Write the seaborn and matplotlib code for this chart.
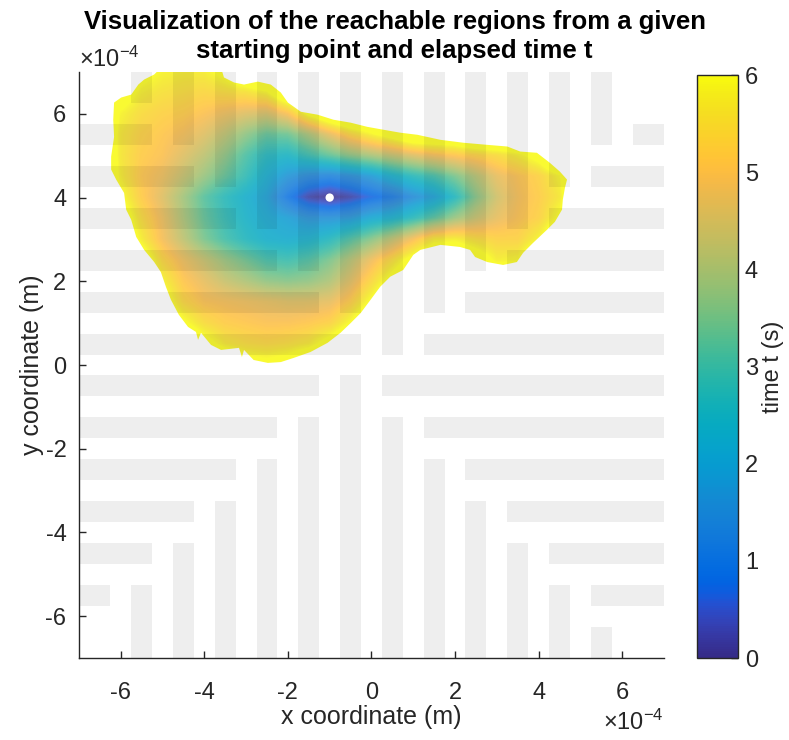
import matplotlib
matplotlib.use("Agg")
import matplotlib.pyplot as plt
import numpy as np
import seaborn as sns
from matplotlib.colors import LinearSegmentedColormap, Normalize
from matplotlib.cm import ScalarMappable
from matplotlib.patches import Polygon

UNIT = 1e-4  # coordinates below are given in units of 1e-4 m

# ---------------------------------------------------------------- data
# sample grid of the arrival-time field (s)
grid_x = [-6.5, -6.0, -5.5, -5.0, -4.5, -4.0, -3.5, -3.0, -2.5, -2.0, -1.5, -1.0,
          -0.5, 0.0, 0.5, 1.0, 1.5, 2.0, 2.5, 3.0, 3.5, 4.0, 4.5, 5.0]
grid_y = [0.0, 0.5, 1.0, 1.5, 2.0, 2.5, 3.0, 3.5, 4.0, 4.5, 5.0, 5.5, 6.0, 6.5, 7.0]

# rows follow grid_y (bottom to top), columns follow grid_x
arrival_time = [
    [7.5, 7.5, 7.5, 7.5, 7.5, 7.5, 7.0, 6.3, 6.2, 6.4, 7.0, 7.5, 7.5, 7.5, 7.5, 7.5, 7.5, 7.5, 7.5, 7.5, 7.5, 7.5, 7.5, 7.5],
    [7.5, 7.5, 7.5, 7.5, 7.0, 6.3, 5.7, 5.5, 5.4, 5.5, 5.7, 6.3, 7.0, 7.5, 7.5, 7.5, 7.5, 7.5, 7.5, 7.5, 7.5, 7.5, 7.5, 7.5],
    [7.5, 7.5, 7.5, 7.0, 6.1, 5.5, 5.2, 5.1, 5.0, 5.0, 5.1, 5.3, 6.0, 7.0, 7.5, 7.5, 7.5, 7.5, 7.5, 7.5, 7.5, 7.5, 7.5, 7.5],
    [7.5, 7.5, 7.5, 6.4, 5.4, 5.0, 4.9, 4.8, 4.7, 4.6, 4.6, 4.7, 5.2, 6.1, 7.0, 7.5, 7.5, 7.5, 7.5, 7.5, 7.5, 7.5, 7.5, 7.5],
    [7.5, 7.5, 7.0, 5.9, 5.1, 4.7, 4.3, 4.0, 3.7, 3.6, 3.7, 4.0, 4.6, 5.4, 6.3, 7.0, 7.5, 7.5, 7.5, 7.0, 7.0, 7.5, 7.5, 7.5],
    [7.5, 7.5, 6.6, 5.4, 4.8, 4.3, 3.8, 3.4, 3.0, 2.9, 3.1, 3.5, 4.1, 4.8, 5.5, 6.3, 7.0, 7.0, 6.5, 5.8, 5.9, 7.0, 7.5, 7.5],
    [7.5, 7.0, 5.8, 4.9, 4.2, 3.5, 3.0, 2.6, 2.3, 2.2, 2.3, 2.6, 3.1, 3.6, 4.2, 4.9, 5.7, 5.8, 5.5, 5.3, 5.3, 5.9, 7.0, 7.5],
    [7.5, 6.6, 5.5, 4.8, 4.0, 3.3, 2.8, 2.4, 2.1, 1.9, 1.6, 1.6, 1.7, 2.1, 2.3, 2.7, 3.2, 3.8, 4.3, 4.7, 5.0, 5.3, 6.1, 7.5],
    [7.5, 6.1, 5.2, 4.6, 3.9, 3.2, 2.7, 2.3, 1.9, 1.0, 0.3, 0.0, 0.3, 0.7, 1.0, 1.5, 1.9, 2.6, 3.6, 4.4, 4.9, 5.2, 5.7, 7.5],
    [7.5, 5.8, 5.1, 4.8, 4.3, 3.8, 3.3, 2.8, 2.2, 1.7, 1.4, 1.3, 1.5, 1.8, 2.3, 2.7, 3.0, 3.5, 4.1, 4.7, 5.0, 5.3, 5.9, 7.5],
    [7.5, 5.7, 5.2, 5.0, 4.6, 4.2, 3.7, 3.1, 2.6, 2.5, 2.9, 3.3, 3.7, 4.0, 4.3, 4.6, 4.9, 5.1, 5.3, 5.5, 5.8, 6.3, 7.5, 7.5],
    [7.5, 5.7, 5.3, 5.1, 4.9, 4.6, 4.2, 3.7, 3.3, 3.4, 4.0, 4.7, 5.4, 5.9, 6.4, 7.0, 7.0, 7.0, 7.5, 7.5, 7.5, 7.5, 7.5, 7.5],
    [7.5, 5.9, 5.5, 5.3, 5.2, 5.0, 4.8, 4.6, 4.5, 5.0, 6.2, 7.0, 7.5, 7.5, 7.5, 7.5, 7.5, 7.5, 7.5, 7.5, 7.5, 7.5, 7.5, 7.5],
    [7.5, 6.5, 5.8, 5.6, 5.5, 5.4, 5.5, 5.6, 5.9, 7.0, 7.5, 7.5, 7.5, 7.5, 7.5, 7.5, 7.5, 7.5, 7.5, 7.5, 7.5, 7.5, 7.5, 7.5],
    [7.5, 7.0, 6.3, 5.9, 5.8, 5.8, 6.2, 7.0, 7.5, 7.5, 7.5, 7.5, 7.5, 7.5, 7.5, 7.5, 7.5, 7.5, 7.5, 7.5, 7.5, 7.5, 7.5, 7.5],
]

# outline of the reachable region (t <= 6 s), clockwise from the upper left
region_x = [-6.16, -5.99, -5.75, -5.58, -5.44, -5.20, -5.04, -3.60, -3.53, -3.29,
            -3.05, -2.72, -2.41, -2.17, -2.00, -1.69, -1.29, -0.91, -0.50, -0.10,
            0.29, 0.69, 1.10, 1.65, 2.20, 2.77, 3.25, 3.56, 3.96, 4.27,
            4.51, 4.68, 4.63, 4.58, 4.56, 4.39, 4.20, 3.87, 3.63, 3.48,
            3.15, 2.77, 2.48, 2.36, 2.12, 1.65, 1.17, 1.00, 0.76, 0.45,
            0.21, -0.02, -0.26, -0.50, -0.74, -1.05, -1.46, -1.86, -2.17, -2.48,
            -2.82, -3.05, -3.10, -3.17, -3.60, -3.84, -4.08, -4.15, -4.20, -4.39,
            -4.61, -4.80, -4.92, -5.04, -5.20, -5.44, -5.63, -5.75, -5.87, -5.92,
            -6.11, -6.23, -6.23, -6.16, -6.18]
region_y = [6.27, 6.39, 6.46, 6.70, 6.82, 6.94, 7.10, 7.10, 6.87, 6.75,
            6.70, 6.77, 6.70, 6.51, 6.27, 6.05, 5.98, 5.86, 5.79, 5.69,
            5.62, 5.55, 5.50, 5.38, 5.31, 5.26, 5.22, 5.10, 5.07, 4.83,
            4.62, 4.43, 4.23, 3.95, 3.71, 3.42, 3.23, 2.92, 2.68, 2.46,
            2.39, 2.46, 2.58, 2.75, 2.82, 2.87, 2.75, 2.63, 2.27, 2.11,
            1.87, 1.56, 1.24, 1.00, 0.77, 0.53, 0.31, 0.17, 0.07, 0.05,
            0.12, 0.36, 0.19, 0.41, 0.36, 0.48, 0.77, 0.60, 0.79, 0.91,
            1.20, 1.56, 1.87, 2.22, 2.46, 2.75, 3.06, 3.47, 3.71, 4.11,
            4.43, 4.67, 4.98, 5.45, 5.86]

# starting point
start_x = [-1.0]
start_y = [4.0]

# obstacle strips: horizontal (centre y, from x, to x)
hbar_y = [0.5, 1.5, 2.5, 3.5, 4.5, 5.5,
          0.5, 1.5, 2.5, 3.5, 4.5, 5.5,
          -0.5, -1.5, -2.5, -3.5, -4.5, -5.5,
          -0.5, -1.5, -2.5, -3.5, -4.5, -5.5]
hbar_x0 = [-7, -7, -7, -7, -7, -7,
           1.25, 2.25, 3.25, 4.25, 5.25, 6.25,
           -7, -7, -7, -7, -7, -7,
           0.25, 1.25, 2.25, 3.25, 4.25, 5.25]
hbar_x1 = [-0.25, -1.25, -2.25, -3.25, -4.25, -5.25,
           7, 7, 7, 7, 7, 7,
           -1.25, -2.25, -3.25, -4.25, -5.25, -6.25,
           7, 7, 7, 7, 7, 7]
# vertical (centre x, from y, to y)
vbar_x = [-0.5, -1.5, -2.5, -3.5, -4.5, -5.5,
          0.5, 1.5, 2.5, 3.5, 4.5, 5.5,
          -0.5, -1.5, -2.5, -3.5, -4.5, -5.5,
          0.5, 1.5, 2.5, 3.5, 4.5, 5.5]
vbar_y0 = [1.25, 2.25, 3.25, 4.25, 5.25, 6.25,
           0.25, 1.25, 2.25, 3.25, 4.25, 5.25,
           -7, -7, -7, -7, -7, -7,
           -7, -7, -7, -7, -7, -7]
vbar_y1 = [7, 7, 7, 7, 7, 7,
           7, 7, 7, 7, 7, 7,
           -0.25, -1.25, -2.25, -3.25, -4.25, -5.25,
           -1.25, -2.25, -3.25, -4.25, -5.25, -6.25]
strip_width = 0.5

axis_ticks = [-6, -4, -2, 0, 2, 4, 6]
time_ticks = [0, 1, 2, 3, 4, 5, 6]

title_lines = ["Visualization of the reachable regions from a given",
               "starting point and elapsed time t"]

# ---------------------------------------------------------------- colormap
PARULA = [
    (0.2081, 0.1663, 0.5292), (0.2116, 0.1898, 0.5777), (0.2123, 0.2138, 0.6270),
    (0.2081, 0.2386, 0.6771), (0.1959, 0.2645, 0.7279), (0.1707, 0.2919, 0.7792),
    (0.1253, 0.3242, 0.8303), (0.0591, 0.3598, 0.8683), (0.0117, 0.3875, 0.8820),
    (0.0060, 0.4086, 0.8828), (0.0165, 0.4266, 0.8786), (0.0329, 0.4430, 0.8720),
    (0.0498, 0.4586, 0.8641), (0.0629, 0.4737, 0.8554), (0.0723, 0.4887, 0.8467),
    (0.0779, 0.5040, 0.8384), (0.0793, 0.5200, 0.8312), (0.0749, 0.5375, 0.8263),
    (0.0641, 0.5570, 0.8240), (0.0488, 0.5772, 0.8228), (0.0343, 0.5966, 0.8199),
    (0.0265, 0.6137, 0.8135), (0.0239, 0.6287, 0.8038), (0.0231, 0.6418, 0.7913),
    (0.0228, 0.6535, 0.7768), (0.0267, 0.6642, 0.7607), (0.0384, 0.6743, 0.7436),
    (0.0590, 0.6838, 0.7254), (0.0843, 0.6928, 0.7062), (0.1133, 0.7015, 0.6859),
    (0.1453, 0.7098, 0.6646), (0.1801, 0.7177, 0.6424), (0.2178, 0.7250, 0.6193),
    (0.2586, 0.7317, 0.5954), (0.3022, 0.7376, 0.5712), (0.3482, 0.7424, 0.5473),
    (0.3953, 0.7459, 0.5244), (0.4420, 0.7481, 0.5033), (0.4871, 0.7491, 0.4840),
    (0.5300, 0.7491, 0.4661), (0.5709, 0.7485, 0.4494), (0.6099, 0.7473, 0.4337),
    (0.6473, 0.7456, 0.4188), (0.6834, 0.7435, 0.4044), (0.7184, 0.7411, 0.3905),
    (0.7525, 0.7384, 0.3768), (0.7858, 0.7356, 0.3633), (0.8185, 0.7327, 0.3498),
    (0.8507, 0.7299, 0.3360), (0.8824, 0.7274, 0.3217), (0.9139, 0.7258, 0.3063),
    (0.9450, 0.7261, 0.2886), (0.9739, 0.7314, 0.2666), (0.9938, 0.7455, 0.2403),
    (0.9990, 0.7653, 0.2164), (0.9955, 0.7861, 0.1967), (0.9880, 0.8066, 0.1794),
    (0.9789, 0.8271, 0.1633), (0.9697, 0.8481, 0.1475), (0.9626, 0.8705, 0.1309),
    (0.9589, 0.8949, 0.1132), (0.9598, 0.9218, 0.0948), (0.9661, 0.9514, 0.0755),
    (0.9763, 0.9831, 0.0538),
]
parula = LinearSegmentedColormap.from_list("parula", PARULA, N=256)

# ---------------------------------------------------------------- style
sns.set_theme(style="ticks")
plt.rcParams["font.family"] = ["Liberation Sans", "DejaVu Sans"]
plt.rcParams["axes.unicode_minus"] = False
plt.rcParams["mathtext.fontset"] = "custom"
plt.rcParams["mathtext.rm"] = "Liberation Sans"
plt.rcParams["mathtext.it"] = "Liberation Sans:italic"
INK = (0.15, 0.15, 0.15)
TICK_FS = 17
LABEL_FS = 18

fig = plt.figure(figsize=(7.89, 7.40), dpi=100)
ax = fig.add_axes([0.1001, 0.1108, 0.7414, 0.7919])

# arrival-time field, clipped to the reachable region
gx = np.array(grid_x) * UNIT
gy = np.array(grid_y) * UNIT
half = 0.25 * UNIT
im = ax.imshow(np.array(arrival_time), origin="lower",
               extent=[gx[0] - half, gx[-1] + half, gy[0] - half, gy[-1] + half],
               cmap=parula, vmin=0, vmax=6, interpolation="bilinear",
               interpolation_stage="data", alpha=0.85, aspect="auto", zorder=1)
outline = np.column_stack([np.array(region_x) * UNIT, np.array(region_y) * UNIT])
region = Polygon(outline, closed=True, transform=ax.transData,
                 facecolor="none", edgecolor="none")
im.set_clip_path(region)

# obstacle strips drawn as translucent bars
hx0 = np.array(hbar_x0) * UNIT
hx1 = np.array(hbar_x1) * UNIT
ax.barh(np.array(hbar_y) * UNIT, hx1 - hx0, height=strip_width * UNIT, left=hx0,
        color="black", alpha=0.065, linewidth=0, zorder=2)
vy0 = np.array(vbar_y0) * UNIT
vy1 = np.array(vbar_y1) * UNIT
ax.bar(np.array(vbar_x) * UNIT, vy1 - vy0, width=strip_width * UNIT, bottom=vy0,
       color="black", alpha=0.065, linewidth=0, zorder=2)

# starting point
sns.scatterplot(x=np.array(start_x) * UNIT, y=np.array(start_y) * UNIT, ax=ax,
                color="white", s=36, edgecolor="none", zorder=4, legend=False)

ax.set_xlim(-7 * UNIT, 7 * UNIT)
ax.set_ylim(-7 * UNIT, 7 * UNIT)
ax.set_xticks(np.array(axis_ticks) * UNIT)
ax.set_xticklabels([str(v) for v in axis_ticks])
ax.set_yticks(np.array(axis_ticks) * UNIT)
ax.set_yticklabels([str(v) for v in axis_ticks])
ax.tick_params(direction="in", length=5, width=1, colors=INK, labelsize=TICK_FS)
ax.tick_params(axis="x", pad=17)
ax.tick_params(axis="y", pad=9)
for side in ("top", "right"):
    ax.spines[side].set_visible(False)
for side in ("left", "bottom"):
    ax.spines[side].set_color(INK)
    ax.spines[side].set_linewidth(1)
ax.set_xlabel("x coordinate (m)", fontsize=LABEL_FS, color=INK)
ax.set_ylabel("y coordinate (m)", fontsize=LABEL_FS, color=INK)
ax.xaxis.set_label_coords(0.5, -0.080)
ax.yaxis.set_label_coords(-0.060, 0.5)
ax.text(0.0, 1.0, r"$\times10^{-4}$", transform=ax.transAxes, ha="left", va="bottom",
        fontsize=TICK_FS, color=INK)
ax.text(1.0, -0.088, r"$\times10^{-4}$", transform=ax.transAxes, ha="right", va="top",
        fontsize=TICK_FS, color=INK)

# two-line bold title
fig.text(0.5, 1 - 29 / 740, title_lines[0], ha="center", va="baseline",
         fontsize=18.5, fontweight="bold", color="black")
fig.text(0.5, 1 - 58 / 740, title_lines[1], ha="center", va="baseline",
         fontsize=18.5, fontweight="bold", color="black")

# colour bar
cax = fig.add_axes([0.8834, 0.1108, 0.052, 0.7878])
sm = ScalarMappable(norm=Normalize(vmin=0, vmax=6), cmap=parula)
cb = fig.colorbar(sm, cax=cax, ticks=time_ticks)
cb.ax.tick_params(direction="in", length=5, width=1, colors=INK,
                  labelsize=TICK_FS, pad=5)
cb.outline.set_edgecolor(INK)
cb.outline.set_linewidth(1)
cb.set_label("time t (s)", fontsize=17, color=INK, labelpad=3)

fig.savefig("out.png", dpi=100, facecolor="white")
